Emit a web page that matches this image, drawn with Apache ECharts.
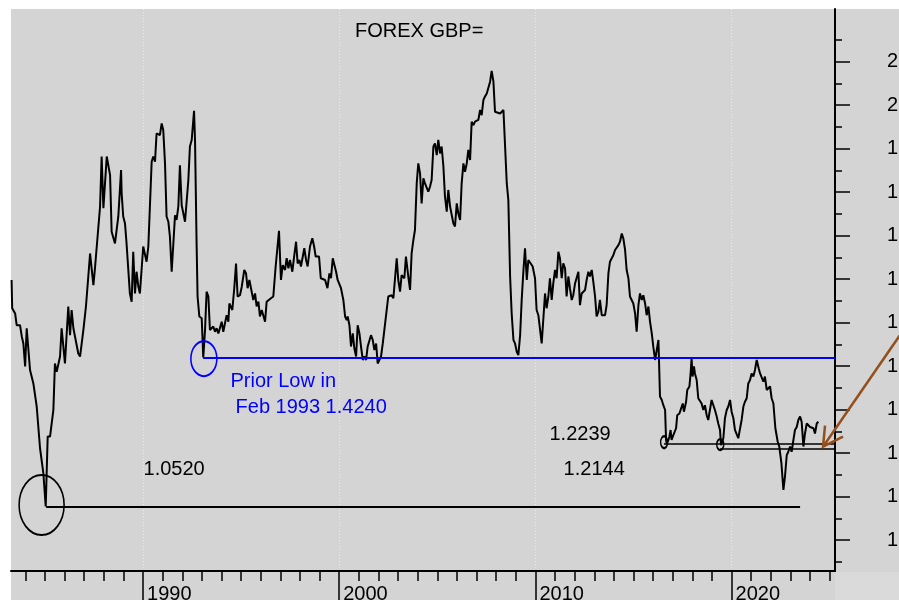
<!DOCTYPE html>
<html>
<head>
<meta charset="utf-8">
<script src="https://cdn.jsdelivr.net/npm/echarts@6/dist/echarts.min.js"></script>
<style>
  html, body { margin: 0; padding: 0; background: #fff; }
  #chart { width: 899px; height: 600px; }
</style>
</head>
<body>
<div id="chart"></div>
<script>
// GBP= monthly closes (decimal year, USD per GBP)
var years = [
  1983.30,1983.33,1983.39,1983.48,1983.56,1983.73,1983.82,1983.90,1983.99,1984.07,1984.24,1984.41,1984.58,1984.67,1984.75,1984.92,
  1985.04,1985.14,1985.26,1985.43,1985.51,1985.60,1985.77,1985.85,1986.02,1986.19,1986.28,1986.36,1986.45,1986.53,1986.70,1986.79,1986.96,
  1987.09,1987.21,1987.30,1987.47,1987.55,1987.64,1987.81,1987.89,1987.98,1988.06,1988.15,1988.23,1988.32,1988.40,1988.49,1988.57,1988.66,
  1988.74,1988.88,1988.91,1988.99,1989.08,1989.16,1989.25,1989.33,1989.42,1989.50,1989.59,1989.67,1989.76,1989.84,1990.01,1990.18,1990.27,
  1990.44,1990.52,1990.61,1990.69,1990.78,1990.86,1990.95,1991.03,1991.12,1991.20,1991.29,1991.37,1991.46,1991.54,1991.63,1991.71,1991.80,
  1991.88,1991.97,1992.14,1992.31,1992.39,1992.48,1992.60,1992.65,1992.73,1992.78,1992.87,1992.99,1993.07,1993.16,1993.24,1993.33,1993.41,
  1993.50,1993.58,1993.67,1993.75,1993.84,1993.92,1994.01,1994.09,1994.18,1994.26,1994.35,1994.40,1994.48,1994.55,1994.65,1994.74,1994.82,
  1994.94,1995.03,1995.16,1995.25,1995.33,1995.42,1995.50,1995.62,1995.71,1995.79,1995.88,1995.96,1996.05,1996.13,1996.22,1996.30,1996.39,
  1996.52,1996.64,1996.76,1996.93,1997.03,1997.12,1997.24,1997.32,1997.41,1997.49,1997.61,1997.71,1997.80,1997.88,1997.97,1998.05,1998.22,
  1998.31,1998.39,1998.51,1998.63,1998.72,1998.80,1998.90,1998.97,1999.06,1999.16,1999.28,1999.40,1999.50,1999.58,1999.67,1999.75,1999.84,
  1999.92,2000.01,2000.09,2000.21,2000.30,2000.38,2000.43,2000.52,2000.60,2000.69,2000.77,2000.86,2000.94,2001.03,2001.11,2001.20,2001.28,
  2001.37,2001.45,2001.62,2001.71,2001.79,2001.88,2001.96,2002.05,2002.13,2002.22,2002.30,2002.42,2002.50,2002.59,2002.67,2002.76,2002.93,
  2003.01,2003.10,2003.18,2003.32,2003.40,2003.52,2003.61,2003.69,2003.78,2003.86,2003.95,2004.03,2004.12,2004.20,2004.29,2004.37,2004.46,
  2004.54,2004.63,2004.71,2004.80,2004.88,2004.97,2005.05,2005.14,2005.22,2005.31,2005.39,2005.48,2005.56,2005.65,2005.73,2005.82,2005.90,
  2005.99,2006.07,2006.16,2006.24,2006.33,2006.41,2006.50,2006.58,2006.67,2006.75,2006.84,2006.92,2007.09,2007.18,2007.26,2007.35,2007.43,
  2007.52,2007.60,2007.69,2007.77,2007.86,2007.94,2008.03,2008.20,2008.28,2008.37,2008.45,2008.54,2008.62,2008.71,2008.79,2008.88,2008.96,
  2009.05,2009.13,2009.22,2009.30,2009.39,2009.47,2009.56,2009.64,2009.73,2009.86,2009.98,2010.06,2010.15,2010.24,2010.32,2010.40,2010.49,
  2010.57,2010.66,2010.74,2010.83,2010.91,2011.00,2011.08,2011.17,2011.25,2011.34,2011.42,2011.51,2011.59,2011.68,2011.76,2011.85,2011.93,
  2012.02,2012.10,2012.19,2012.27,2012.36,2012.44,2012.53,2012.61,2012.70,2012.78,2012.87,2012.95,2013.04,2013.12,2013.21,2013.29,2013.38,
  2013.55,2013.63,2013.72,2013.80,2013.89,2013.97,2014.06,2014.14,2014.23,2014.31,2014.40,2014.48,2014.57,2014.65,2014.74,2014.82,2014.91,
  2014.99,2015.08,2015.16,2015.25,2015.33,2015.42,2015.50,2015.59,2015.67,2015.76,2015.84,2015.93,2016.01,2016.10,2016.18,2016.27,2016.35,
  2016.44,2016.52,2016.61,2016.66,2016.69,2016.78,2016.83,2016.89,2016.94,2017.03,2017.11,2017.17,2017.23,2017.34,2017.40,2017.51,2017.57,
  2017.68,2017.74,2017.85,2017.91,2017.96,2018.01,2018.08,2018.13,2018.22,2018.30,2018.39,2018.47,2018.56,2018.64,2018.73,2018.81,2018.90,
  2018.98,2019.07,2019.15,2019.24,2019.32,2019.41,2019.46,2019.58,2019.66,2019.75,2019.83,2019.92,2020.00,2020.09,2020.17,2020.26,2020.34,
  2020.43,2020.51,2020.60,2020.68,2020.77,2020.85,2020.94,2021.02,2021.11,2021.19,2021.28,2021.33,2021.38,2021.45,2021.53,2021.62,2021.70,
  2021.79,2021.87,2021.96,2022.04,2022.13,2022.23,2022.35,2022.43,2022.54,2022.64,2022.72,2022.81,2022.89,2022.98,2023.06,2023.15,2023.23,
  2023.32,2023.40,2023.49,2023.57,2023.66,2023.74,2023.83,2023.91,2024.00,2024.08,2024.17,2024.25,2024.34,2024.42
];
var rates = [
  1.598,1.533,1.529,1.521,1.494,1.494,1.468,1.452,1.399,1.487,1.391,1.360,1.307,1.303,1.211,1.153,
  1.077,1.238,1.238,1.299,1.406,1.387,1.422,1.487,1.406,1.537,1.471,1.529,1.487,1.483,1.429,1.422,1.483,
  1.537,1.606,1.659,1.586,1.625,1.625,1.767,1.882,1.763,1.763,1.882,1.878,1.839,1.709,1.705,1.682,1.686,
  1.744,1.851,1.797,1.744,1.728,1.682,1.682,1.567,1.548,1.663,1.567,1.617,1.583,1.567,1.675,1.640,1.675,
  1.870,1.882,1.870,1.935,1.939,1.931,1.958,1.943,1.866,1.744,1.732,1.698,1.617,1.678,1.747,1.736,1.767,
  1.862,1.770,1.732,1.828,1.905,1.920,1.987,1.920,1.682,1.560,1.514,1.510,1.420,1.483,1.571,1.560,1.483,
  1.487,1.491,1.479,1.487,1.475,1.479,1.502,1.479,1.483,1.517,1.502,1.544,1.540,1.529,1.579,1.636,1.560,
  1.563,1.582,1.621,1.613,1.579,1.598,1.594,1.552,1.567,1.537,1.548,1.514,1.529,1.533,1.502,1.548,1.552,
  1.556,1.560,1.629,1.711,1.598,1.632,1.621,1.648,1.625,1.644,1.617,1.655,1.686,1.636,1.644,1.629,1.671,
  1.644,1.629,1.675,1.694,1.675,1.652,1.648,1.652,1.602,1.606,1.598,1.579,1.613,1.602,1.648,1.644,1.617,
  1.598,1.598,1.579,1.552,1.514,1.506,1.514,1.494,1.445,1.475,1.441,1.422,1.494,1.475,1.445,1.414,1.422,
  1.414,1.445,1.471,1.460,1.437,1.452,1.406,1.410,1.422,1.452,1.456,1.529,1.560,1.556,1.563,1.556,1.648,
  1.598,1.571,1.609,1.602,1.652,1.606,1.575,1.659,1.690,1.713,1.820,1.866,1.843,1.774,1.832,1.820,1.820,
  1.801,1.813,1.828,1.905,1.912,1.885,1.920,1.889,1.905,1.859,1.790,1.755,1.805,1.767,1.767,1.728,1.721,
  1.774,1.751,1.736,1.820,1.866,1.847,1.866,1.897,1.874,1.962,1.954,1.962,1.966,1.989,1.977,2.012,2.020,
  2.027,2.031,2.054,2.079,2.054,1.985,1.985,1.981,1.981,1.989,1.985,1.820,1.782,1.606,1.521,1.460,1.452,
  1.433,1.425,1.471,1.552,1.621,1.671,1.598,1.644,1.644,1.629,1.602,1.529,1.517,1.521,1.452,1.506,1.567,
  1.533,1.560,1.602,1.552,1.590,1.621,1.602,1.663,1.648,1.602,1.636,1.625,1.560,1.606,1.579,1.552,1.563,
  1.590,1.594,1.617,1.540,1.567,1.571,1.575,1.598,1.617,1.606,1.621,1.594,1.560,1.514,1.525,1.552,1.517,
  1.517,1.540,1.613,1.640,1.648,1.655,1.667,1.671,1.678,1.686,1.705,1.694,1.667,1.621,1.602,1.560,1.560,
  1.544,1.521,1.479,1.540,1.567,1.552,1.563,1.544,1.517,1.537,1.503,1.475,1.444,1.414,1.418,1.460,1.330,
  1.322,1.310,1.299,1.230,1.222,1.230,1.238,1.253,1.230,1.241,1.245,1.257,1.287,1.291,1.287,1.314,1.295,
  1.318,1.345,1.353,1.383,1.418,1.376,1.399,1.383,1.368,1.326,1.322,1.314,1.299,1.310,1.287,1.276,1.276,
  1.322,1.318,1.299,1.284,1.268,1.253,1.218,1.234,1.280,1.299,1.307,1.322,1.295,1.280,1.253,1.257,1.234,
  1.230,1.276,1.307,1.318,1.326,1.360,1.368,1.383,1.376,1.391,1.414,1.418,1.395,1.383,1.387,1.364,1.376,
  1.345,1.345,1.353,1.326,1.314,1.257,1.226,1.215,1.176,1.115,1.146,1.195,1.203,1.215,1.203,1.230,1.253,
  1.260,1.276,1.284,1.272,1.215,1.245,1.268,1.264,1.260,1.264,1.257,1.245,1.268,1.272
];

var yearTicks = [1984,1985,1986,1987,1988,1989,1990,1991,1992,1993,1994,1995,1996,1997,1998,1999,2000,2001,2002,2003,2004,
  2005,2006,2007,2008,2009,2010,2011,2012,2013,2014,2015,2016,2017,2018,2019,2020,2021,2022,2023,2024,2025];
var decadeTicks = [1990, 2000, 2010, 2020];
var priceTicks = [1.0, 1.1, 1.2, 1.3, 1.4, 1.5, 1.6, 1.7, 1.8, 1.9, 2.0, 2.1];
var priceMinorTicks = [0.95, 1.05, 1.15, 1.25, 1.35, 1.45, 1.55, 1.65, 1.75, 1.85, 1.95, 2.05, 2.15];

// support levels as drawn on the chart
var low1985 = 1.076;
var low1993 = 1.418;
var low2016 = 1.2224;
var low2019 = 1.2109;

var FONT = "'Liberation Sans', Arial, sans-serif";
var xMin = 1983.27, xMax = 2025.27;
var yMin = 0.9287, yMax = 2.2212;

var chart = echarts.init(document.getElementById('chart'));

var lineData = [];
for (var i = 0; i < years.length; i++) {
  lineData.push([years[i], rates[i]]);
}

function level(x1, x2, y, color, width) {
  return [
    { coord: [x1, y], lineStyle: { color: color, width: width, type: 'solid' } },
    { coord: [x2, y] }
  ];
}

var option = {
  animation: false,
  backgroundColor: '#d4d4d4',
  grid: { left: 11, right: 64, top: 9, bottom: 29, containLabel: false, outerBoundsMode: 'none' },
  xAxis: [
    {
      type: 'value', min: xMin, max: xMax, position: 'bottom',
      axisLine: { show: true, onZero: false, lineStyle: { color: '#000', width: 2 } },
      axisTick: { show: true, customValues: yearTicks, length: 10, lineStyle: { color: '#000', width: 1.5 } },
      axisLabel: { show: false },
      splitLine: { show: false }
    },
    {
      type: 'value', min: xMin, max: xMax, position: 'bottom',
      axisLine: { show: false, onZero: false },
      axisTick: { show: true, customValues: decadeTicks, length: 30, lineStyle: { color: '#000', width: 1.5 } },
      axisLabel: {
        show: true, customValues: decadeTicks, align: 'left', margin: 13,
        padding: [0, 0, 0, 4], color: '#000', fontSize: 20, fontFamily: FONT,
        formatter: function (v) { return String(v); }
      },
      splitLine: { show: true, lineStyle: { color: '#eaeaea', width: 1, type: [1, 2] } }
    }
  ],
  yAxis: [
    {
      type: 'value', min: yMin, max: yMax, position: 'right',
      axisLine: { show: true, onZero: false, lineStyle: { color: '#000', width: 2 } },
      axisTick: { show: true, customValues: priceTicks, length: 15, lineStyle: { color: '#000', width: 1.5 } },
      axisLabel: {
        show: true, customValues: priceTicks, align: 'left', margin: 52,
        padding: [6, 0, 0, 0],
        color: '#000', fontSize: 20, fontFamily: FONT,
        formatter: function (v) { return v.toFixed(1); }
      },
      splitLine: { show: false }
    },
    {
      type: 'value', min: yMin, max: yMax, position: 'right',
      axisLine: { show: false, onZero: false },
      axisTick: { show: true, customValues: priceMinorTicks, length: 7, lineStyle: { color: '#000', width: 1.5 } },
      axisLabel: { show: false },
      splitLine: { show: false }
    }
  ],
  series: [
    {
      name: 'GBP=', type: 'line', xAxisIndex: 0, yAxisIndex: 0,
      data: lineData, showSymbol: false, symbol: 'none', z: 3,
      lineStyle: { color: '#000', width: 2 },
      markLine: {
        silent: true, symbol: ['none', 'none'], label: { show: false },
        data: [
          level(1985.06, 2023.49, low1985, '#000', 2),
          level(1993.06, xMax, low1993, '#0000ff', 2),
          level(2016.55, xMax, low2016, '#000', 1.5),
          level(2019.41, xMax, low2019, '#000', 1.5)
        ]
      }
    },
    {
      name: 'rings', type: 'scatter', xAxisIndex: 0, yAxisIndex: 0, z: 4, silent: true,
      data: [
        { value: [1984.83, 1.0805], symbolSize: [45, 60], itemStyle: { borderColor: '#000' } },
        { value: [1993.10, 1.417], symbolSize: [26, 35], itemStyle: { borderColor: '#0000ff' } },
        { value: [2016.56, 1.2249], symbolSize: [7, 12], itemStyle: { borderColor: '#000' } },
        { value: [2019.42, 1.2196], symbolSize: [7, 11], itemStyle: { borderColor: '#000' } }
      ],
      itemStyle: { color: 'rgba(0,0,0,0)', borderWidth: 1.8, opacity: 1 }
    },
    {
      name: 'notes', type: 'scatter', xAxisIndex: 0, yAxisIndex: 0, z: 5, silent: true,
      symbolSize: 1, itemStyle: { color: 'rgba(0,0,0,0)', opacity: 1 },
      label: {
        show: true, position: 'right', distance: 0, fontSize: 20, fontFamily: FONT, color: '#000',
        formatter: function (p) { return p.name; }
      },
      data: [
        { name: '1.0520', value: [1990.0, 1.1633] },
        { name: 'Prior Low in', value: [1994.43, 1.364], label: { color: '#0000ff' } },
        { name: 'Feb 1993 1.4240', value: [1994.69, 1.3042], label: { color: '#0000ff' } },
        { name: '1.2239', value: [2010.69, 1.2437] },
        { name: '1.2144', value: [2011.41, 1.1633] }
      ]
    }
  ]
};

chart.setOption(option);

// brown arrow pointing at the 1.2144 level
var tip = chart.convertToPixel({ xAxisIndex: 0, yAxisIndex: 0 }, [2024.66, 1.2145]);
chart.setOption({
  graphic: [
    { type: 'rect', left: 835, top: 572, shape: { width: 64, height: 28 }, style: { fill: '#dadada' }, z: -5 },
    { type: 'rect', left: 0, top: 0, shape: { width: 899, height: 9 }, style: { fill: '#ffffff' } },
    { type: 'rect', left: 0, top: 0, shape: { width: 11, height: 600 }, style: { fill: '#ffffff' } },
    { type: 'text', left: 355, top: 21, style: { text: 'FOREX GBP=', fill: '#000', font: '20px ' + FONT } },
    {
      type: 'polyline', z: 10, silent: true,
      shape: { points: [[tip[0] + 80, tip[1] - 116], [tip[0], tip[1]]] },
      style: { stroke: '#934f1c', lineWidth: 2.5, fill: null }
    },
    {
      type: 'polyline', z: 10, silent: true,
      shape: { points: [[tip[0] + 2, tip[1] - 21], [tip[0], tip[1]], [tip[0] + 20, tip[1] - 10]] },
      style: { stroke: '#934f1c', lineWidth: 2.5, fill: null }
    }
  ]
});
</script>
</body>
</html>
